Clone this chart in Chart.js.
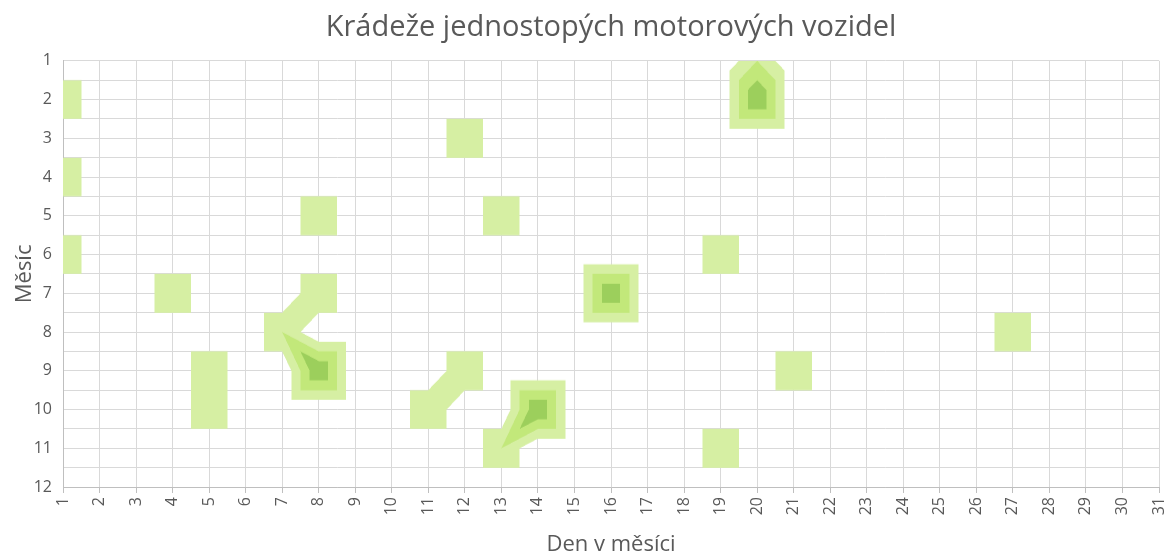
<!DOCTYPE html>
<html lang="cs">
  <head>
    <meta charset="UTF-8" />
    <title>Krádeže jednostopých motorových vozidel</title>
    <script src="https://cdn.jsdelivr.net/npm/chart.js"></script>
    <style>
      html,
      body {
        margin: 0;
        padding: 0;
        background: #fff;
      }
      #wrap {
        width: 1167px;
        height: 559px;
      }
    </style>
  </head>
  <body>
    <div id="wrap"><canvas id="myChart"></canvas></div>
  </body>
  <script>
    // jeden záznam = den, měsíc, počet krádeží
    const dayList = [20, 20, 1, 12, 1, 8, 13, 1, 19, 4, 8, 16, 7, 27, 5, 8, 12, 21, 5, 11, 14, 13, 19];
    const monthList = [1, 2, 2, 3, 4, 5, 5, 6, 6, 7, 7, 7, 8, 8, 9, 9, 9, 9, 10, 10, 10, 11, 11];
    const countList = [1, 2, 1, 1, 1, 1, 1, 1, 1, 1, 1, 2, 1, 1, 1, 2, 1, 1, 1, 1, 2, 1, 1];

    // hranice pásem vrstevnic
    const levelList = [0.5, 1, 1.5];
    const levelColors = ["#d6efa3", "#c2e87a", "#9ccf5c"];

    const fontFamily = "'Open Sans', 'Noto Sans', sans-serif";
    const textColor = "#595959";
    const gridColor = "#d9d9d9";
    const axisColor = "#bfbfbf";

    const hexToRgb = (hex) => [1, 3, 5].map((k) => parseInt(hex.substr(k, 2), 16));

    // lineární interpolace v trojúhelníku (rohy buňky + její střed)
    const tri = (u, w, x1, y1, f1, x2, y2, f2, fc) => {
      const det = (y2 - 0.5) * (x1 - 0.5) + (0.5 - x2) * (y1 - 0.5);
      const l1 = ((y2 - 0.5) * (u - 0.5) + (0.5 - x2) * (w - 0.5)) / det;
      const l2 = ((0.5 - y1) * (u - 0.5) + (x1 - 0.5) * (w - 0.5)) / det;
      return l1 * f1 + l2 * f2 + (1 - l1 - l2) * fc;
    };

    const surface = (val, d, m, maxD, maxM) => {
      const i = Math.min(Math.max(Math.floor(d), 1), maxD - 1);
      const j = Math.min(Math.max(Math.floor(m), 1), maxM - 1);
      const u = d - i;
      const w = m - j;
      const a = val(i, j);
      const b = val(i + 1, j);
      const c = val(i, j + 1);
      const e = val(i + 1, j + 1);
      const mid = Math.max((a + e) / 2, (b + c) / 2);
      if (w <= u && w <= 1 - u) return tri(u, w, 0, 0, a, 1, 0, b, mid);
      if (u >= w && u >= 1 - w) return tri(u, w, 1, 0, b, 1, 1, e, mid);
      if (w >= u && w >= 1 - u) return tri(u, w, 1, 1, e, 0, 1, c, mid);
      return tri(u, w, 0, 1, c, 0, 0, a, mid);
    };

    const contourFill = {
      id: "contourFill",
      beforeDatasetsDraw(chart) {
        const { ctx, chartArea: area } = chart;
        const xs = chart.scales.x;
        const ys = chart.scales.y;
        const grid = {};
        chart.data.datasets[0].data.forEach((p) => {
          const key = p.x + "_" + p.y;
          grid[key] = (grid[key] || 0) + p.v;
        });
        const val = (d, m) => grid[d + "_" + m] || 0;
        const rgb = levelColors.map(hexToRgb);

        const w = Math.round(area.right - area.left);
        const h = Math.round(area.bottom - area.top);
        const sub = [0.25, 0.75];
        const colD = [];
        for (let px = 0; px < w; px++) {
          colD.push(sub.map((s) => xs.getValueForPixel(area.left + px + s)));
        }

        const off = document.createElement("canvas");
        off.width = w;
        off.height = h;
        const octx = off.getContext("2d");
        const img = octx.createImageData(w, h);

        for (let py = 0; py < h; py++) {
          const rowM = sub.map((s) => ys.getValueForPixel(area.top + py + s));
          for (let px = 0; px < w; px++) {
            let n = 0, r = 0, g = 0, bl = 0;
            for (const m of rowM) {
              for (const d of colD[px]) {
                const f = surface(val, d, m, xs.max, ys.max);
                let lvl = -1;
                for (let k = levelList.length - 1; k >= 0; k--) {
                  if (f > levelList[k] + 1e-9) {
                    lvl = k;
                    break;
                  }
                }
                if (lvl < 0) continue;
                n++;
                r += rgb[lvl][0];
                g += rgb[lvl][1];
                bl += rgb[lvl][2];
              }
            }
            if (!n) continue;
            const idx = (py * w + px) * 4;
            img.data[idx] = r / n;
            img.data[idx + 1] = g / n;
            img.data[idx + 2] = bl / n;
            img.data[idx + 3] = (n / 4) * 255;
          }
        }
        octx.putImageData(img, 0, 0);
        ctx.drawImage(off, area.left, area.top);
      },
    };

    Chart.defaults.font.family = fontFamily;
    Chart.defaults.color = textColor;

    const ctx = document.getElementById("myChart");
    const myChart = new Chart(ctx, {
      type: "scatter",
      data: {
        datasets: [
          {
            label: "Krádeže",
            data: dayList.map((d, k) => ({ x: d, y: monthList[k], v: countList[k] })),
            pointRadius: 0,
            showLine: false,
          },
        ],
      },
      plugins: [contourFill],
      options: {
        responsive: true,
        maintainAspectRatio: false,
        animation: false,
        events: [],
        layout: { padding: { left: 0, right: 8, top: 0, bottom: 0 } },
        scales: {
          x: {
            type: "linear",
            min: 1,
            max: 31,
            ticks: {
              stepSize: 1,
              autoSkip: false,
              minRotation: 90,
              maxRotation: 90,
              padding: 4,
              color: textColor,
              font: { size: 16 },
            },
            grid: { color: gridColor, tickColor: axisColor, tickLength: 6 },
            border: { color: axisColor },
            title: {
              display: true,
              text: "Den v měsíci",
              color: textColor,
              font: { size: 22 },
              padding: { top: 0, bottom: 1 },
            },
            afterFit(scale) {
              scale.height = 72;
              scale.paddingLeft = 0;
              scale.paddingRight = 0;
            },
          },
          y: {
            type: "linear",
            reverse: true,
            min: 1,
            max: 12,
            ticks: {
              stepSize: 0.5,
              autoSkip: false,
              padding: 11,
              color: textColor,
              font: { size: 16 },
              callback: (v) => (Number.isInteger(v) ? v : ""),
            },
            grid: { color: gridColor, drawTicks: false },
            border: { color: axisColor },
            title: {
              display: true,
              text: "Měsíc",
              color: textColor,
              font: { size: 22 },
              padding: { top: 12, bottom: 0 },
            },
            afterFit(scale) {
              scale.width = 63;
              scale.paddingTop = 0;
              scale.paddingBottom = 0;
            },
          },
        },
        plugins: {
          legend: { display: false },
          tooltip: { enabled: false },
          title: {
            display: true,
            fullSize: false,
            text: "Krádeže jednostopých motorových vozidel",
            color: textColor,
            font: { size: 29, weight: "normal" },
            padding: { top: 10, bottom: 16 },
          },
        },
      },
    });
  </script>
</html>
